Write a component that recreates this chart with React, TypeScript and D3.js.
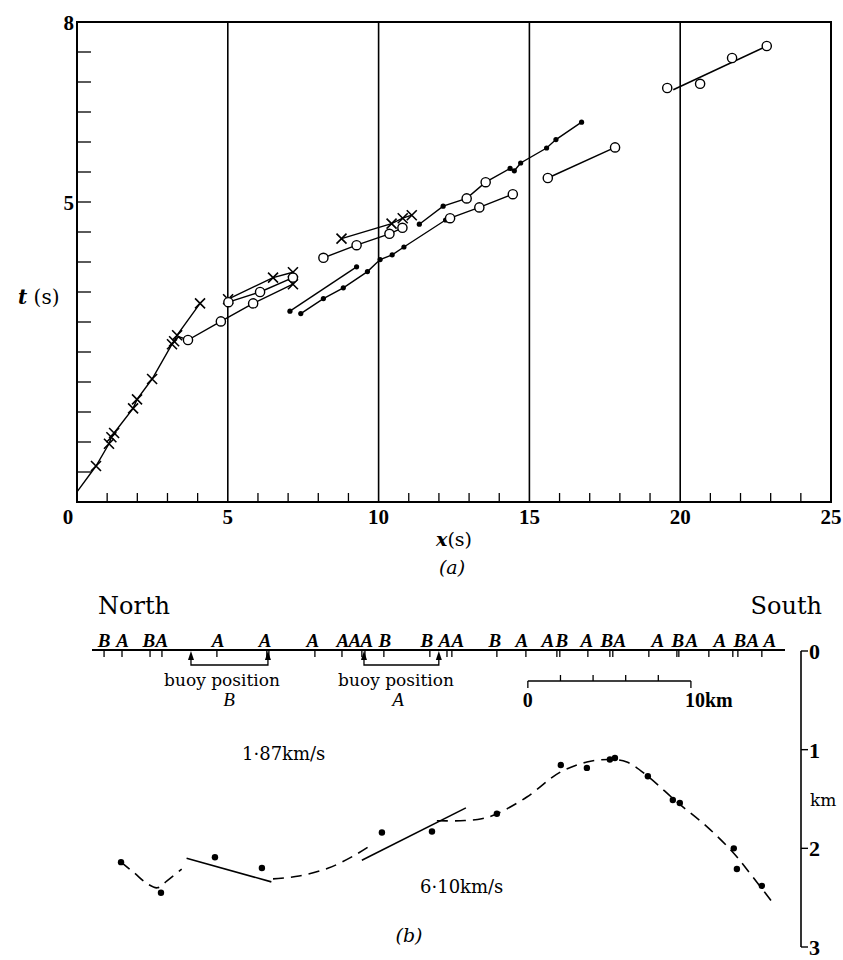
import React from 'react';
import * as d3 from 'd3';

// ---- panel (a): travel time t (s) against range x (s) ----
type Mark = 'x' | 'o' | 'dot' | 'none';
type Pt = [number, number, Mark];

const run1: Pt[] = [[0, 0.17, 'none'], [0.63, 0.6, 'x'], [1.06, 0.97, 'x'], [1.14, 1.08, 'x'], [1.23, 1.15, 'x'], [1.86, 1.56, 'x'], [1.99, 1.71, 'x'], [2.49, 2.05, 'x'], [3.15, 2.63, 'x'], [3.22, 2.68, 'x'], [3.32, 2.78, 'x'], [4.08, 3.31, 'x']];
const run2: Pt[] = [[3.35, 2.76, 'none'], [3.68, 2.7, 'o'], [4.77, 3.01, 'o'], [5.84, 3.31, 'o'], [7.16, 3.63, 'x']];
const run3: Pt[] = [[5.01, 3.38, 'x'], [6.5, 3.74, 'x'], [7.16, 3.83, 'x']];
const run4: Pt[] = [[5.02, 3.33, 'o'], [6.07, 3.5, 'o'], [7.16, 3.74, 'o']];
const run5: Pt[] = [[7.06, 3.18, 'dot'], [9.27, 3.92, 'dot']];
const run6: Pt[] = [[7.42, 3.14, 'dot'], [8.17, 3.39, 'dot'], [8.83, 3.57, 'dot'], [9.63, 3.84, 'dot'], [10.05, 4.04, 'dot'], [10.45, 4.12, 'dot'], [10.84, 4.25, 'dot'], [12.22, 4.7, 'dot'], [12.37, 4.73, 'o'], [13.34, 4.91, 'o'], [14.45, 5.13, 'o']];
const run7: Pt[] = [[8.77, 4.39, 'x'], [10.43, 4.64, 'x'], [10.8, 4.73, 'x'], [11.1, 4.78, 'x']];
const run8: Pt[] = [[8.17, 4.07, 'o'], [9.27, 4.28, 'o'], [10.36, 4.47, 'o'], [10.79, 4.57, 'o']];
const run9: Pt[] = [[11.35, 4.63, 'dot'], [12.14, 4.93, 'dot'], [12.92, 5.06, 'o'], [13.55, 5.33, 'o'], [14.36, 5.56, 'dot'], [14.5, 5.52, 'dot'], [14.71, 5.65, 'dot'], [15.57, 5.9, 'dot'], [15.88, 6.04, 'dot'], [16.73, 6.33, 'dot']];
const run10: Pt[] = [[15.61, 5.4, 'o'], [17.84, 5.91, 'o']];
const run11: Pt[] = [[19.57, 6.9, 'o'], [20.66, 6.97, 'o'], [21.72, 7.4, 'o'], [22.87, 7.6, 'o']];
const run11Fit: [number, number][] = [[19.77, 6.87], [22.87, 7.6]];

const xLabels = [0, 5, 10, 15, 20, 25];
const tLabels = [5, 8];

// ---- panel (b): shot line and refractor depth profile ----
const shotTicks = [0.74, 1.84, 3.56, 4.29, 7.66, 10.72, 10.85, 13.67, 15.33, 16.55, 16.74, 17.9, 20.72, 21.77, 22.07, 24.83, 26.61, 28.51, 28.69, 30.41, 31.76, 31.94, 34.15, 35.87, 35.99, 37.83, 39.3, 39.61, 41.08];
const shotLabels = ['B', 'A', 'B', 'A', 'A', 'A', 'A', 'A', 'A', 'A', 'B', 'B', 'A', 'A', 'B', 'A', 'A', 'B', 'A', 'B', 'A', 'A', 'B', 'A', 'A', 'B', 'A', 'A'];
const shotLabelKm = [0.74, 1.87, 3.49, 4.29, 7.73, 10.61, 13.55, 15.39, 16.12, 16.86, 17.96, 20.54, 21.64, 22.44, 24.71, 26.36, 27.96, 28.82, 30.35, 31.58, 32.37, 34.7, 35.93, 36.79, 38.51, 39.73, 40.53, 41.57];
const buoyB = [6.07, 10.79];
const buoyA = [16.68, 21.27];

const profileKm = [1.78, 4.23, 7.54, 10.42, 17.78, 20.85, 24.83, 28.75, 30.35, 31.76, 32.07, 34.09, 35.62, 36.05, 39.36, 39.55, 41.08];
const profileDepth = [2.14, 2.45, 2.09, 2.2, 1.84, 1.83, 1.65, 1.155, 1.185, 1.1, 1.085, 1.27, 1.51, 1.54, 2.0, 2.21, 2.38];

const dashed1: [number, number][] = [[1.78, 2.14], [2.6, 2.25], [3.4, 2.36], [4.0, 2.4], [4.6, 2.33], [5.5, 2.21]];
const dashed2: [number, number][] = [[11.1, 2.31], [12.7, 2.28], [14.5, 2.2], [16.0, 2.08], [16.9, 1.99]];
const dashed3: [number, number][] = [[21.15, 1.72], [22.6, 1.72], [23.9, 1.7], [24.83, 1.65], [26.67, 1.48], [28.69, 1.23], [30.35, 1.125], [31.76, 1.1], [32.8, 1.125], [34.09, 1.27], [35.87, 1.53], [37.71, 1.78], [39.3, 2.04], [40.34, 2.25], [41.69, 2.54]];
const solid1: [number, number][] = [[5.8, 2.1], [11.0, 2.34]];
const solid2: [number, number][] = [[16.55, 2.12], [22.93, 1.59]];

const depthLabels = [0, 1, 2, 3];
const scaleBarKm = [0, 2, 4, 6, 8, 10];

const serif = "'Liberation Serif', 'Times New Roman', serif";
const dv = "'DejaVu Serif', serif";

export default function App() {
  const x = d3.scaleLinear().domain([0, 25]).range([77, 831]);
  const t = d3.scaleLinear().domain([0, 8]).range([502, 22]);
  const runLine = d3.line<Pt>().x((d) => x(d[0])).y((d) => t(d[1]));
  const fitLine = d3.line<[number, number]>().x((d) => x(d[0])).y((d) => t(d[1]));

  const kx = d3.scaleLinear().domain([0, 42.5]).range([92, 785]);
  const dz = d3.scaleLinear().domain([0, 3]).range([651, 947]);
  const smooth = d3.line<[number, number]>().x((d) => kx(d[0])).y((d) => dz(d[1])).curve(d3.curveCatmullRom);
  const straight = d3.line<[number, number]>().x((d) => kx(d[0])).y((d) => dz(d[1]));

  const runs = [run1, run2, run3, run4, run5, run6, run7, run8, run9, run10];
  const allMarks = [...runs.flat(), ...run11];

  const minorX = d3.range(1, 25).filter((v) => v % 5 !== 0);
  const minorT = d3.range(0.5, 8, 0.5);
  const barStart = 26.73;
  const lineY = dz(0) - 1;

  const marker = (d: Pt, i: number) => {
    const cx = x(d[0]);
    const cy = t(d[1]);
    if (d[2] === 'x')
      return (
        <path key={i} d={`M${cx - 5},${cy - 5}L${cx + 5},${cy + 5}M${cx - 5},${cy + 5}L${cx + 5},${cy - 5}`} stroke="#000" strokeWidth={1.6} />
      );
    if (d[2] === 'o') return <circle key={i} cx={cx} cy={cy} r={4.6} fill="#fff" stroke="#000" strokeWidth={1.4} />;
    if (d[2] === 'dot') return <circle key={i} cx={cx} cy={cy} r={2.6} fill="#000" />;
    return null;
  };

  const bracket = (pair: number[], key: string) => {
    const [a, b] = pair.map((v) => kx(v));
    const y0 = lineY + 1;
    const y1 = lineY + 15;
    return (
      <g key={key}>
        <path d={`M${a},${y1 - 9}L${a},${y1}L${b},${y1}L${b},${y1 - 9}`} fill="none" stroke="#000" strokeWidth={1.3} />
        <path d={`M${a},${y0}L${a - 3},${y0 + 9}L${a + 3},${y0 + 9}Z`} fill="#000" />
        <path d={`M${b},${y0}L${b - 3},${y0 + 9}L${b + 3},${y0 + 9}Z`} fill="#000" />
      </g>
    );
  };

  return (
    <svg width={843} height={960} style={{ position: 'absolute', left: 0, top: 0, background: '#fff' }}>
      {/* frame of panel (a) */}
      <rect x={x(0)} y={t(8)} width={x(25) - x(0)} height={t(0) - t(8)} fill="none" stroke="#000" strokeWidth={2} />
      {[5, 10, 15, 20].map((v) => (
        <line key={v} x1={x(v)} x2={x(v)} y1={t(0)} y2={t(8)} stroke="#000" strokeWidth={1.6} />
      ))}
      {minorX.map((v) => (
        <line key={v} x1={x(v)} x2={x(v)} y1={t(0)} y2={t(0) - 9} stroke="#000" strokeWidth={1.3} />
      ))}
      {minorT.map((v) => (
        <line key={v} x1={x(0)} x2={x(0) + 14} y1={t(v)} y2={t(v)} stroke="#000" strokeWidth={1.3} />
      ))}
      {xLabels.map((v) => (
        <text key={v} x={v === 0 ? x(v) - 9 : x(v)} y={t(0) + 22} textAnchor="middle" fontFamily={serif} fontWeight="bold" fontSize={21}>
          {v}
        </text>
      ))}
      {tLabels.map((v) => (
        <text key={v} x={x(0) - 3} y={t(v) + 8} textAnchor="end" fontFamily={serif} fontWeight="bold" fontSize={21}>
          {v}
        </text>
      ))}
      <text x={18} y={304} fontFamily={dv} fontSize={20}>
        <tspan fontStyle="italic" fontWeight="bold">t</tspan> (s)
      </text>
      <text x={454} y={546} textAnchor="middle" fontFamily={dv} fontSize={19}>
        <tspan fontStyle="italic" fontWeight="bold">x</tspan>(s)
      </text>
      <text x={452} y={574} textAnchor="middle" fontFamily={dv} fontStyle="italic" fontSize={19}>
        (a)
      </text>

      {/* time-distance runs */}
      {runs.map((r, i) => (
        <path key={i} d={runLine(r) || ''} fill="none" stroke="#000" strokeWidth={1.4} />
      ))}
      <path d={fitLine(run11Fit) || ''} fill="none" stroke="#000" strokeWidth={1.6} />
      {allMarks.map(marker)}

      {/* panel (b) */}
      <text x={98} y={614} fontFamily={dv} fontSize={24}>North</text>
      <text x={822} y={614} textAnchor="end" fontFamily={dv} fontSize={24}>South</text>
      <line x1={kx(0)} x2={kx(42.5)} y1={lineY} y2={lineY} stroke="#000" strokeWidth={1.8} />
      {shotTicks.map((v, i) => (
        <line key={i} x1={kx(v)} x2={kx(v)} y1={lineY} y2={lineY + 7} stroke="#000" strokeWidth={1.3} />
      ))}
      {shotLabels.map((s, i) => (
        <text key={i} x={kx(shotLabelKm[i])} y={lineY - 3} textAnchor="middle" fontFamily={serif} fontStyle="italic" fontWeight="bold" fontSize={19}>
          {s}
        </text>
      ))}
      {bracket(buoyB, 'b')}
      {bracket(buoyA, 'a')}
      <text x={222} y={686} textAnchor="middle" fontFamily={dv} fontSize={17}>buoy position</text>
      <text x={229} y={706} textAnchor="middle" fontFamily={serif} fontStyle="italic" fontSize={19}>B</text>
      <text x={396} y={686} textAnchor="middle" fontFamily={dv} fontSize={17}>buoy position</text>
      <text x={398} y={706} textAnchor="middle" fontFamily={serif} fontStyle="italic" fontSize={19}>A</text>

      {/* 10 km scale bar */}
      <line x1={kx(barStart)} x2={kx(barStart + 10)} y1={681} y2={681} stroke="#000" strokeWidth={1.5} />
      {scaleBarKm.map((v) => {
        const end = v === 0 || v === 10;
        return (
          <line key={v} x1={kx(barStart + v)} x2={kx(barStart + v)} y1={end ? 681 : 675} y2={end ? 688 : 681} stroke="#000" strokeWidth={1.3} />
        );
      })}
      <text x={kx(barStart)} y={707} textAnchor="middle" fontFamily={serif} fontWeight="bold" fontSize={20}>0</text>
      <text x={kx(barStart + 10) - 6} y={707} fontFamily={serif} fontWeight="bold" fontSize={20}>10km</text>

      {/* depth axis */}
      <line x1={801} x2={801} y1={dz(0)} y2={dz(3)} stroke="#000" strokeWidth={1.6} />
      {depthLabels.map((v) => (
        <g key={v}>
          <line x1={801} x2={808} y1={dz(v)} y2={dz(v)} stroke="#000" strokeWidth={1.4} />
          <text x={809} y={dz(v) + 8} fontFamily={serif} fontWeight="bold" fontSize={22}>{v}</text>
        </g>
      ))}
      <text x={810} y={806} fontFamily={dv} fontSize={17}>km</text>

      {/* refractor profile */}
      {[dashed1, dashed2, dashed3].map((d, i) => (
        <path key={i} d={smooth(d) || ''} fill="none" stroke="#000" strokeWidth={1.6} strokeDasharray="11,7" />
      ))}
      {[solid1, solid2].map((d, i) => (
        <path key={i} d={straight(d) || ''} fill="none" stroke="#000" strokeWidth={1.6} />
      ))}
      {profileKm.map((v, i) => (
        <circle key={i} cx={kx(v)} cy={dz(profileDepth[i])} r={3.2} fill="#000" />
      ))}
      <text x={242} y={760} fontFamily={dv} fontSize={18}>1·87km/s</text>
      <text x={420} y={893} fontFamily={dv} fontSize={18}>6·10km/s</text>
      <text x={409} y={942} textAnchor="middle" fontFamily={dv} fontStyle="italic" fontSize={19}>(b)</text>
    </svg>
  );
}
